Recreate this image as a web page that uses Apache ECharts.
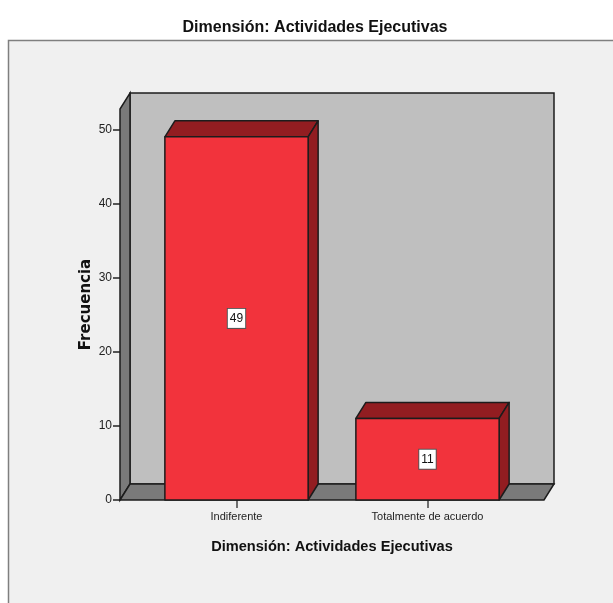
<!DOCTYPE html>
<html>
<head>
<meta charset="utf-8">
<style>
html, body { margin: 0; padding: 0; background: #fff; }
#chart { width: 613px; height: 603px; }
</style>
<script src="https://cdn.jsdelivr.net/npm/echarts@6/dist/echarts.min.js"></script>
</head>
<body>
<div id="chart"></div>
<script>
const categories = ['Indiferente', 'Totalmente de acuerdo'];
const frequencies = [49, 11];
const yTicks = [0, 10, 20, 30, 40, 50];
const chartTitle = 'Dimensión: Actividades Ejecutivas';
const xTitle = 'Dimensión: Actividades Ejecutivas';
const yTitle = 'Frecuencia';

// fake 3d depth, same offset for the box and the bars
const DEPTH_X = 10;
const DEPTH_Y = 16;
const WALL_PAD = 21;
const EDGE = '#1c1c1c';
const FONT = '"Liberation Sans", Arial, sans-serif';

function renderWalls(params, api) {
    const rect = params.coordSys;
    const x0 = rect.x - WALL_PAD;
    const x1 = rect.x + rect.width + WALL_PAD;
    const top = rect.y;
    const bottom = rect.y + rect.height;
    const edge = { stroke: EDGE, lineWidth: 1.5 };
    return {
        type: 'group',
        children: [
            {
                type: 'rect',
                shape: { x: x0 + DEPTH_X, y: top - DEPTH_Y, width: x1 - x0, height: rect.height },
                style: { fill: '#bfbfbf', ...edge }
            },
            {
                type: 'polygon',
                shape: { points: [[x0, bottom], [x0 + DEPTH_X, bottom - DEPTH_Y], [x0 + DEPTH_X, top - DEPTH_Y], [x0, top]] },
                style: { fill: '#7a7a7a', ...edge }
            },
            {
                type: 'polygon',
                shape: { points: [[x0, bottom], [x1, bottom], [x1 + DEPTH_X, bottom - DEPTH_Y], [x0 + DEPTH_X, bottom - DEPTH_Y]] },
                style: { fill: '#7a7a7a', ...edge }
            }
        ]
    };
}

function renderBar(params, api) {
    const cat = api.value(0);
    const val = api.value(1);
    const topPt = api.coord([cat, val]);
    const basePt = api.coord([cat, 0]);
    const midPt = api.coord([cat, val / 2]);
    const w = api.size([1, 0])[0] * 0.75;
    const l = topPt[0] - w / 2;
    const r = topPt[0] + w / 2;
    const t = topPt[1];
    const b = basePt[1];
    const edge = { stroke: EDGE, lineWidth: 1.5, lineJoin: 'round' };
    return {
        type: 'group',
        children: [
            {
                type: 'polygon',
                shape: { points: [[l, t], [r, t], [r + DEPTH_X, t - DEPTH_Y], [l + DEPTH_X, t - DEPTH_Y]] },
                style: { fill: '#921d21', ...edge }
            },
            {
                type: 'polygon',
                shape: { points: [[r, t], [r + DEPTH_X, t - DEPTH_Y], [r + DEPTH_X, b - DEPTH_Y], [r, b]] },
                style: { fill: '#921d21', ...edge }
            },
            {
                type: 'rect',
                shape: { x: l, y: t, width: w, height: b - t },
                style: { fill: '#f2333c', ...edge }
            },
            {
                type: 'text',
                x: midPt[0],
                y: midPt[1],
                style: {
                    text: String(val),
                    fill: '#111',
                    font: '12px ' + FONT,
                    align: 'center',
                    verticalAlign: 'middle',
                    backgroundColor: '#fff',
                    borderColor: '#555',
                    borderWidth: 1,
                    padding: [4, 2, 3, 2]
                }
            }
        ]
    };
}

const myChart = echarts.init(document.getElementById('chart'), null, { renderer: 'canvas' });
myChart.setOption({
    animation: false,
    backgroundColor: '#fff',
    title: {
        text: chartTitle,
        left: 310,
        top: 15,
        textAlign: 'center',
        textStyle: { fontFamily: FONT, fontSize: 16, fontWeight: 'bold', color: '#111' }
    },
    graphic: [{
        type: 'rect',
        z: -10,
        shape: { x: 8.5, y: 40.5, width: 620, height: 580 },
        style: { fill: '#f0f0f0', stroke: '#7f7f7f', lineWidth: 1.5 }
    }],
    grid: { left: 141, right: 90, top: 109, bottom: 103 },
    xAxis: {
        type: 'category',
        data: categories,
        name: xTitle,
        nameLocation: 'middle',
        nameGap: 39,
        nameTextStyle: { fontFamily: FONT, fontSize: 14.6, fontWeight: 'bold', color: '#111' },
        axisLine: { show: false },
        axisTick: { show: true, alignWithLabel: true, length: 8, lineStyle: { color: '#444', width: 1.5 } },
        axisLabel: { fontFamily: FONT, fontSize: 11, color: '#222', margin: 11 }
    },
    yAxis: {
        type: 'value',
        min: 0,
        max: 52.75,
        offset: 21,
        name: yTitle,
        nameLocation: 'middle',
        nameGap: 26,
        nameMoveOverlap: false,
        nameTextStyle: { fontFamily: '"DejaVu Sans", sans-serif', fontSize: 15, fontWeight: 'bold', color: '#111' },
        splitLine: { show: false },
        axisLine: { show: false },
        axisTick: { show: true, length: 7, customValues: yTicks, lineStyle: { color: '#222', width: 1.5 } },
        axisLabel: { fontFamily: FONT, fontSize: 12, color: '#222', margin: 8, customValues: yTicks }
    },
    series: [
        {
            type: 'custom',
            renderItem: renderWalls,
            data: [[0, 0]],
            silent: true,
            z: 1
        },
        {
            type: 'custom',
            renderItem: renderBar,
            data: categories.map((c, i) => [i, frequencies[i]]),
            encode: { x: 0, y: 1 },
            z: 2
        }
    ]
});
</script>
</body>
</html>
